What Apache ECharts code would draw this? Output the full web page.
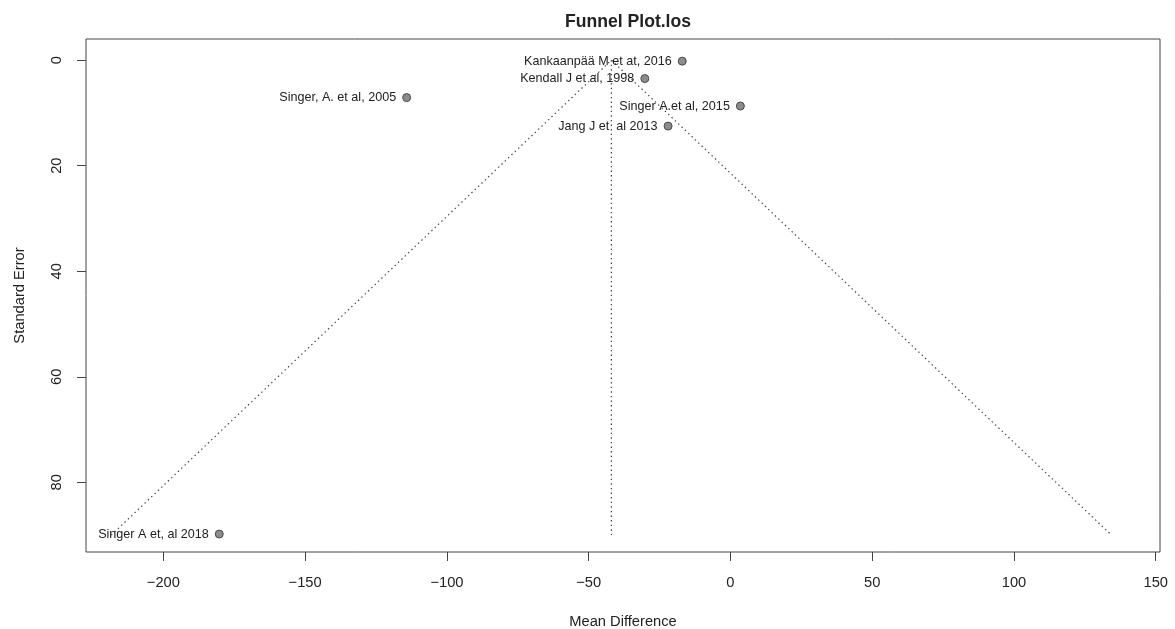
<!DOCTYPE html>
<html>
<head>
<meta charset="utf-8">
<title>Funnel Plot.los</title>
<script src="https://cdn.jsdelivr.net/npm/echarts@6/dist/echarts.min.js"></script>
<style>
  html, body { margin: 0; padding: 0; background: #ffffff; }
  #chart { width: 1175px; height: 629px; }
</style>
</head>
<body>
<div id="chart"></div>
<script>
// Study labels, effect sizes (mean difference) and standard errors
const studies = [
  'Kankaanpää M et at, 2016',
  'Kendall J et al, 1998',
  'Singer, A. et al, 2005',
  'Singer A.et al, 2015',
  'Jang J et  al 2013',
  'Singer A et, al 2018'
];
const meanDiff = [-17, -30.2, -114.2, 3.5, -22, -180.3];
const stdErr = [0.2, 3.5, 7.1, 8.7, 12.5, 89.8];

// Pooled estimate and the pseudo-confidence funnel edges at the largest standard error
const pooled = -42;
const funnelSE = [0, 90];
const funnelLower = [-42, -218.4];
const funnelUpper = [-42, 134.4];

// Tick positions
const xTicks = [-200, -150, -100, -50, 0, 50, 100, 150];
const yTicks = [0, 20, 40, 60, 80];

const FONT = '"Liberation Sans", Arial, Helvetica, sans-serif';
const INK = '#222222';
const FRAME = '#444444';

const chart = echarts.init(document.getElementById('chart'), null, { renderer: 'canvas' });

const funnelPath = [
  [funnelLower[1], funnelSE[1]],
  [funnelLower[0], funnelSE[0]],
  [funnelUpper[1], funnelSE[1]]
];
const centerPath = [[pooled, funnelSE[0]], [pooled, funnelSE[1]]];
const points = studies.map((s, i) => ({ name: s, value: [meanDiff[i], stdErr[i]] }));

const minusFmt = v => String(v).replace('-', '\u2212');

chart.setOption({
  animation: false,
  backgroundColor: '#ffffff',
  title: {
    text: 'Funnel Plot.los',
    left: 623,
    top: 8,
    textAlign: 'center',
    textStyle: { fontFamily: FONT, fontSize: 17.6, fontWeight: 'bold', color: INK }
  },
  grid: {
    left: 86, right: 15, top: 39, bottom: 77,
    containLabel: false,
    outerBoundsMode: 'none',
    show: true, borderColor: FRAME, borderWidth: 1, backgroundColor: 'transparent'
  },
  xAxis: {
    type: 'value',
    min: -227.3, max: 151.5,
    name: 'Mean Difference',
    nameLocation: 'middle',
    nameGap: 62,
    nameTextStyle: { fontFamily: FONT, fontSize: 14.7, color: INK },
    axisLine: { show: false, onZero: false },
    splitLine: { show: false },
    axisTick: { show: true, length: 9, lineStyle: { color: FRAME }, customValues: xTicks },
    axisLabel: {
      customValues: xTicks, margin: 23,
      fontFamily: FONT, fontSize: 14.7, color: INK,
      formatter: minusFmt
    }
  },
  yAxis: {
    type: 'value',
    inverse: true,
    min: -4.0, max: 93.2,
    name: 'Standard Error',
    nameLocation: 'middle',
    nameRotate: 90,
    nameGap: 59,
    nameTextStyle: { fontFamily: FONT, fontSize: 14.7, color: INK },
    axisLine: { show: false, onZero: false },
    splitLine: { show: false },
    axisTick: { show: true, length: 9, lineStyle: { color: FRAME }, customValues: yTicks },
    axisLabel: {
      customValues: yTicks, margin: 22, rotate: 90,
      fontFamily: FONT, fontSize: 14.7, color: INK
    }
  },
  series: [
    {
      type: 'line',
      data: funnelPath,
      symbol: 'none',
      silent: true,
      lineStyle: { color: '#444', width: 1.2, type: [1.4, 3.2] },
      z: 1
    },
    {
      type: 'line',
      data: centerPath,
      symbol: 'none',
      silent: true,
      lineStyle: { color: '#444', width: 1.2, type: [1.4, 3.2] },
      z: 1
    },
    {
      type: 'scatter',
      data: points,
      symbol: 'circle',
      symbolSize: 8,
      itemStyle: { color: '#8c8c8c', borderColor: '#4a4a4a', borderWidth: 1, opacity: 1 },
      label: {
        show: true,
        position: 'left',
        distance: 6,
        formatter: p => p.name,
        fontFamily: FONT,
        fontSize: 12.6,
        color: INK
      },
      z: 3
    }
  ]
});
</script>
</body>
</html>
